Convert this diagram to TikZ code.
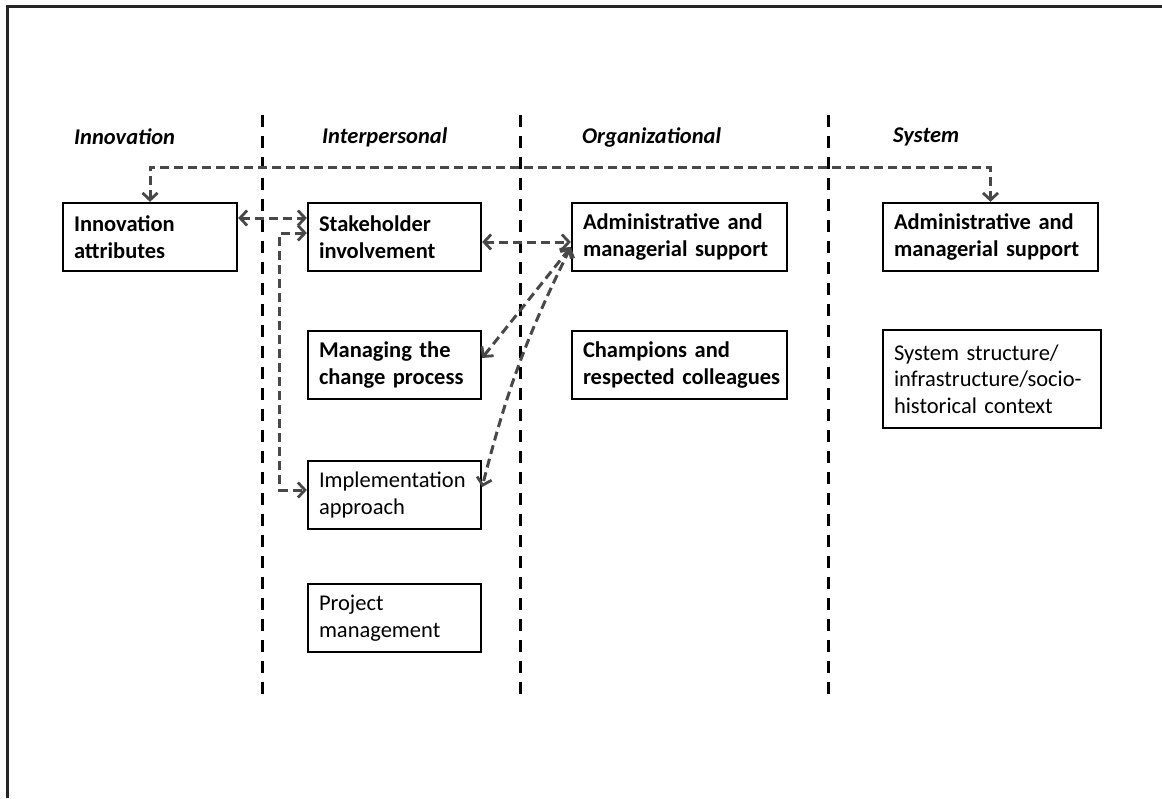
\documentclass[tikz,border=0pt]{standalone}
\usepackage{fontspec}
\setmainfont{Carlito}
\usetikzlibrary{arrows.meta}
\definecolor{conngray}{HTML}{484848}
\tikzset{
  box/.style={draw=black, line width=2.3pt, fill=white, align=left, inner xsep=11pt, inner ysep=0pt,
    font=\fontsize{22.5}{26.5}\selectfont, anchor=center},
  boldbox/.style={box, font=\fontsize{22.5}{26.5}\selectfont\bfseries},
  hdr/.style={anchor=west, inner sep=0pt, font=\fontsize{22.5}{27}\selectfont\bfseries\itshape},
  divider/.style={draw=black, line width=3pt, dash pattern=on 12pt off 9pt},
  tipb/.tip={Straight Barb[length=7pt,width=15pt,line width=2.8pt]},
  conn/.style={draw=conngray, line width=3pt, dash pattern=on 9pt off 5pt, tipb-tipb},
}
\begin{document}
\begin{tikzpicture}[x=1pt,y=-1pt]
\useasboundingbox (0,0) rectangle (1162,798);
% frame
\draw[line width=3pt, black!85] (7,798) -- (7,6) -- (1162,6);
% column headers
\node[hdr] (hInn) at (74,137) {Innovation};
\node[hdr] (hInt) at (322,137) {Interpersonal};
\node[hdr] (hOrg) at (582,137) {Organizational};
\node[hdr] (hSys) at (893,137) {System};
% dividers
\coordinate (d1t) at (262,115); \coordinate (d1b) at (262,695);
\coordinate (d2t) at (520,115); \coordinate (d2b) at (520,695);
\coordinate (d3t) at (828,115); \coordinate (d3b) at (828,695);
\draw[divider] (d1t) -- (d1b);
\draw[divider] (d2t) -- (d2b);
\draw[divider] (d3t) -- (d3b);
% boxes
\node[boldbox, minimum width=174pt, minimum height=68pt, text width=152pt] (ia) at (150,237) {\mbox{Innovation}\\\mbox{attributes}};
\node[boldbox, minimum width=173pt, minimum height=68pt, text width=151pt] (si) at (394.5,237) {\mbox{Stakeholder}\\\mbox{involvement}};
\node[boldbox, minimum width=215pt, minimum height=68pt, text width=193pt] (ao) at (679.5,237) {\mbox{Administrative and}\\\mbox{managerial support}};
\node[boldbox, minimum width=215pt, minimum height=68pt, text width=193pt] (as) at (990.5,237) {\mbox{Administrative and}\\\mbox{managerial support}};
\node[boldbox, minimum width=173pt, minimum height=68pt, text width=151pt] (mc) at (394.5,365) {\mbox{Managing the}\\\mbox{change process}};
\node[boldbox, minimum width=215pt, minimum height=68pt, text width=193pt] (cr) at (679.5,365) {\mbox{Champions and}\\\mbox{respected colleagues}};
\node[box, minimum width=218pt, minimum height=98pt, text width=196pt] (ss) at (992,379) {\mbox{System structure/}\\\mbox{infrastructure/socio-}\\\mbox{historical context}};
\node[box, minimum width=173pt, minimum height=68pt, text width=151pt] (im) at (394.5,495) {\mbox{Implementation}\\\mbox{approach}};
\node[box, minimum width=173pt, minimum height=68pt, text width=151pt] (pm) at (394.5,618) {\mbox{Project}\\\mbox{management}};
% connectors
\coordinate (topline) at (0,167);
\draw[conn] (ia.north) |- (topline -| as.north) -- (as.north);
\draw[conn] ([yshift=19pt]ia.east) -- ([yshift=19pt]si.west);
\draw[conn] ([yshift=4pt]si.west) -- ++(-27pt,0) |- ([yshift=5pt]im.west);
\draw[conn] ([yshift=-5pt]si.east) -- ([yshift=-5pt]ao.west);
\coordinate (hub) at ([yshift=-10pt]ao.west);
\draw[conn] (hub) -- ([yshift=7pt]mc.east);
\draw[conn] (hub) to[bend right=6] ([yshift=8pt]im.east);
\end{tikzpicture}
\end{document}
